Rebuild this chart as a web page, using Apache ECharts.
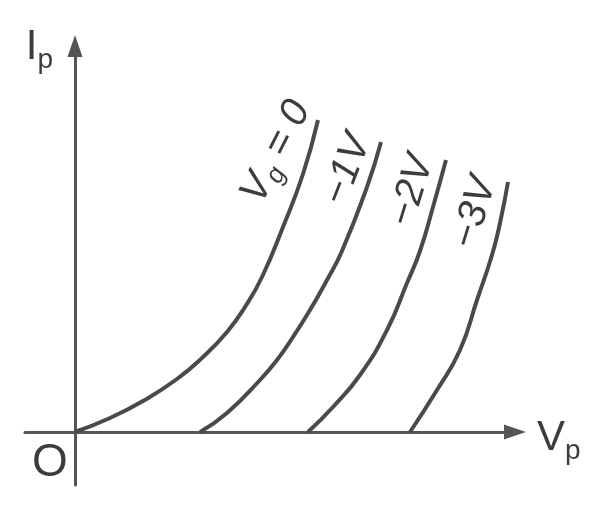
<!DOCTYPE html>
<html>
<head>
<meta charset="utf-8">
<script src="https://cdn.jsdelivr.net/npm/echarts@6/dist/echarts.min.js"></script>
<style>
  html, body { margin: 0; padding: 0; background: #ffffff; }
  #chart { width: 600px; height: 520px; }
</style>
</head>
<body>
<div id="chart"></div>
<script>
// ---- Data (plate voltage Vp vs plate current Ip, arbitrary units) ----
const curveNames = ['Vg = 0', '−1V', '−2V', '−3V'];

const vpVg0 = [0, 7, 13.6, 20.4, 25.6, 30.4, 34, 37.4, 41.6, 45.6, 48.6];
const ipVg0 = [0, 3.5, 7.75, 13.25, 18.75, 25, 31.25, 38.75, 51.25, 64.5, 78];

const vpVg1 = [25, 30.4, 37, 40.4, 43.6, 47, 50.4, 53.4, 58.4, 61.2];
const ipVg1 = [0, 4.75, 13, 18, 23.75, 30.5, 38, 45.25, 61.25, 72.5];

const vpVg2 = [46.6, 51.6, 57, 62.4, 66.4, 69, 71.6, 74.2];
const ipVg2 = [0, 6.25, 14.25, 25.5, 37.25, 45.25, 56.25, 68];

const vpVg3 = [67, 72.4, 77, 80.4, 83.4, 85, 86.6];
const ipVg3 = [0, 10.5, 20.5, 33, 44.25, 52.25, 62.5];

const originLabel = 'O';
const xName = ['V', 'p'];
const yName = ['I', 'p'];

// ---- Styles ----
const INK = '#4a4a4a';
const TEXT = '#3c3c3c';
const FONT = "'Liberation Sans', Arial, sans-serif";

// label placement (rotation in degrees, offset in the label's rotated frame)
const curveLabelStyle = [
  { rotate: 63, offset: [-47.6, -22.9] },
  { rotate: 69, offset: [-38.1, -21.5] },
  { rotate: 73, offset: [-39.6, -23.7] },
  { rotate: 73, offset: [-39.3, -22.8] }
];
const originLabelStyle = { offset: [-25, 31] };

const curvesVp = [vpVg0, vpVg1, vpVg2, vpVg3];
const curvesIp = [ipVg0, ipVg1, ipVg2, ipVg3];

function curveFormatter(name) {
  if (name.indexOf('Vg') === 0) {
    return '{a|V}{s|g}{a| = 0}';
  }
  return '{a|' + name + '}';
}

const labelRich = {
  a: { fontSize: 40, fontStyle: 'italic', fontFamily: FONT, color: TEXT, lineHeight: 42 },
  s: { fontSize: 26, fontStyle: 'italic', fontFamily: FONT, color: TEXT, lineHeight: 26, padding: [22, 0, 0, 0] }
};

const series = curvesVp.map(function (vp, k) {
  const ip = curvesIp[k];
  const data = vp.map(function (x, i) {
    const item = { value: [x, ip[i]] };
    if (i === vp.length - 1) {
      item.label = {
        show: true,
        position: 'inside',
        rotate: curveLabelStyle[k].rotate,
        offset: curveLabelStyle[k].offset,
        formatter: curveFormatter(curveNames[k]),
        rich: labelRich
      };
    } else if (k === 0 && i === 0) {
      // origin marker "O"
      item.label = {
        show: true,
        position: 'inside',
        offset: originLabelStyle.offset,
        formatter: originLabel,
        fontSize: 46,
        fontFamily: FONT,
        color: TEXT
      };
    }
    return item;
  });
  return {
    type: 'line',
    name: curveNames[k],
    data: data,
    smooth: 0.5,
    showSymbol: true,
    symbol: 'circle',
    symbolSize: 0.1,
    itemStyle: { color: 'transparent' },
    lineStyle: { color: INK, width: 4 },
    label: { show: false },
    emphasis: { disabled: true },
    silent: true,
    z: 3
  };
});

const nameRich = {
  a: { fontSize: 42, fontFamily: FONT, color: TEXT, lineHeight: 44, verticalAlign: 'top' },
  b: { fontSize: 28, fontFamily: FONT, color: TEXT, lineHeight: 28, padding: [20, 0, 0, 0], verticalAlign: 'top' }
};

const chart = echarts.init(document.getElementById('chart'), null, { renderer: 'canvas' });
chart.setOption({
  animation: false,
  backgroundColor: '#ffffff',
  grid: { left: 25, right: 85, top: 46, bottom: 35, outerBoundsMode: 'none' },
  xAxis: {
    type: 'value',
    min: -10,
    max: 88,
    name: '{a|' + xName[0] + '}{b|' + xName[1] + '}',
    nameLocation: 'end',
    nameGap: 22,
    nameTextStyle: { rich: nameRich, align: 'left', verticalAlign: 'middle', padding: [14, 0, 0, 0] },
    axisLine: {
      onZero: true,
      lineStyle: { color: '#555555', width: 3 },
      symbol: ['none', 'triangle'],
      symbolSize: [15, 22]
    },
    axisTick: { show: false },
    splitLine: { show: false },
    axisLabel: { show: false }
  },
  yAxis: {
    type: 'value',
    min: -13.25,
    max: 96.5,
    name: '{a|' + yName[0] + '}{b|' + yName[1] + '}',
    nameLocation: 'end',
    nameGap: -2,
    nameTextStyle: { rich: nameRich, align: 'right', verticalAlign: 'middle', padding: [0, 22, 0, 0] },
    axisLine: {
      onZero: true,
      lineStyle: { color: '#555555', width: 3 },
      symbol: ['none', 'triangle'],
      symbolSize: [15, 22]
    },
    axisTick: { show: false },
    splitLine: { show: false },
    axisLabel: { show: false }
  },
  series: series
});
</script>
</body>
</html>
